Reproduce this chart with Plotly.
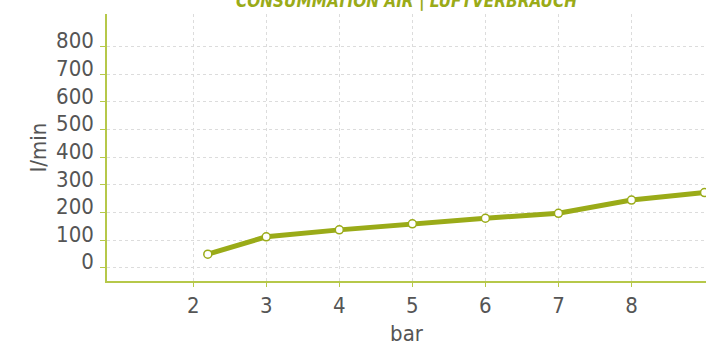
import plotly.graph_objects as go

# Air consumption versus working pressure
pressure_bar = [2.2, 3, 4, 5, 6, 7, 8, 9]
flow_l_min = [49, 112, 137, 159, 179, 197, 245, 272]

x_ticks = [2, 3, 4, 5, 6, 7, 8]
y_ticks = [0, 100, 200, 300, 400, 500, 600, 700, 800]

title_text = "CONSUMMATION AIR | LUFTVERBRAUCH"
x_title = "bar"
y_title = "l/min"

GREEN = "#9aab18"
AXIS_GREEN = "#b6c84a"
GRID = "#dcdcdc"
TEXT = "#555555"
FONT = "DejaVu Sans Condensed, Roboto, sans-serif"

fig = go.Figure()
fig.add_trace(go.Scatter(
    x=pressure_bar,
    y=flow_l_min,
    mode="lines+markers",
    line=dict(color=GREEN, width=5),
    marker=dict(size=8, color="white", line=dict(color=GREEN, width=1.5)),
    cliponaxis=False,
    hoverinfo="x+y",
))

fig.update_layout(
    width=706,
    height=346,
    margin=dict(l=107, r=0, t=14, b=65),
    paper_bgcolor="white",
    plot_bgcolor="white",
    showlegend=False,
    font=dict(family=FONT, color=TEXT),
    title=dict(
        text=title_text,
        font=dict(family=FONT, size=17, color=GREEN, weight="bold", style="italic"),
        xref="paper", x=0.5, xanchor="center",
        yref="container", y=0.997, yanchor="middle",
    ),
    xaxis=dict(
        range=[0.82, 9.02],
        tickvals=x_ticks,
        ticktext=[str(v) for v in x_ticks],
        showgrid=True,
        gridcolor=GRID,
        griddash="dot",
        gridwidth=1,
        zeroline=False,
        showline=True,
        linecolor=AXIS_GREEN,
        linewidth=1.5,
        ticks="outside",
        ticklen=4,
        tickcolor=AXIS_GREEN,
        tickfont=dict(family=FONT, size=22, color=TEXT),
        title=dict(text=x_title, font=dict(family=FONT, size=22, color=TEXT), standoff=12),
    ),
    yaxis=dict(
        range=[-48, 918],
        tickvals=y_ticks,
        ticktext=[str(v) for v in y_ticks],
        showgrid=True,
        gridcolor=GRID,
        griddash="dot",
        gridwidth=1,
        zeroline=False,
        showline=True,
        linecolor=AXIS_GREEN,
        linewidth=1.5,
        ticks="outside",
        ticklen=5,
        tickcolor=AXIS_GREEN,
        ticklabelshift=-6,
        ticklabelstandoff=2,
        tickfont=dict(family=FONT, size=22, color=TEXT),
        title=dict(text=y_title, font=dict(family=FONT, size=22, color=TEXT), standoff=3),
    ),
)

fig.write_html("out.html")
